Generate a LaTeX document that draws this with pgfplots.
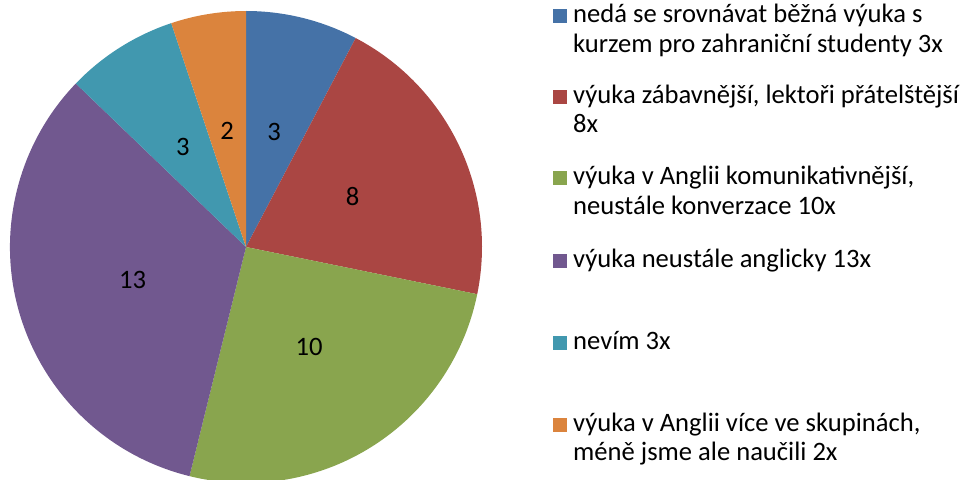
\documentclass[border=0pt]{standalone}
\usepackage{fontspec}
\setmainfont{Carlito}
\usepackage{pgfplots}
\usepackage{pgfplotstable}
\pgfplotsset{compat=1.18}

\definecolor{cBlue}{HTML}{4572A7}
\definecolor{cRed}{HTML}{AA4643}
\definecolor{cGreen}{HTML}{89A54E}
\definecolor{cPurple}{HTML}{71588F}
\definecolor{cTeal}{HTML}{4198AF}
\definecolor{cOrange}{HTML}{DB843D}

% slices, clockwise from 12 o'clock
\pgfplotstableread{
val col
3  cBlue
8  cRed
10 cGreen
13 cPurple
3  cTeal
2  cOrange
}\piedata

\begin{document}
\begin{tikzpicture}
\useasboundingbox (0pt,0pt) rectangle (966pt,479pt);

% total of all slices
\def\total{0}
\pgfplotsforeachungrouped \i in {0,...,5}{%
  \pgfplotstablegetelem{\i}{val}\of\piedata
  \pgfmathsetmacro\total{\total+\pgfplotsretval}%
}

\begin{axis}[
  at={(10pt,-4pt)}, anchor=south west,
  scale only axis, width=472pt, height=472pt,
  xmin=-1, xmax=1, ymin=-1, ymax=1,
  hide axis, clip=false,
]
\def\startang{90}
\pgfplotsforeachungrouped \i in {0,...,5}{%
  \pgfplotstablegetelem{\i}{val}\of\piedata \let\sval=\pgfplotsretval
  \pgfplotstablegetelem{\i}{col}\of\piedata \let\scol=\pgfplotsretval
  \pgfmathsetmacro\endang{\startang-360*\sval/\total}%
  \pgfmathsetmacro\midang{(\startang+\endang)/2}%
  \edef\temp{%
    \noexpand\fill[\scol] (axis cs:0,0) -- (axis cs:{cos(\startang)},{sin(\startang)})
      arc[start angle=\startang, end angle=\endang, radius=236pt] -- cycle;
    \noexpand\node[font=\noexpand\fontsize{26.6}{30}\noexpand\selectfont, inner sep=0pt]
      at (axis cs:{0.5*cos(\midang)},{0.5*sin(\midang)}) {\sval};
  }\temp
  \global\let\startang=\endang
}
\end{axis}

% legend
\tikzset{lt/.style={anchor=base west, inner sep=0pt, font=\fontsize{26.6}{30}\selectfont}}
\def\lx{573pt}
\fill[cBlue]   (553pt,{(479-23)*1pt}) rectangle ++(13.5pt,13.5pt);
\node[lt] at (\lx,{(479-23)*1pt}) {nedá se srovnávat běžná výuka s};
\node[lt] at (\lx,{(479-53)*1pt}) {kurzem pro zahraniční studenty 3x};
\fill[cRed]    (553pt,{(479-104)*1pt}) rectangle ++(13.5pt,13.5pt);
\node[lt] at (\lx,{(479-104)*1pt}) {výuka zábavnější, lektoři přátelštější};
\node[lt] at (\lx,{(479-133)*1pt}) {8x};
\fill[cGreen]  (553pt,{(479-185)*1pt}) rectangle ++(13.5pt,13.5pt);
\node[lt] at (\lx,{(479-185)*1pt}) {výuka v Anglii komunikativnější,};
\node[lt] at (\lx,{(479-215)*1pt}) {neustále konverzace 10x};
\fill[cPurple] (553pt,{(479-268)*1pt}) rectangle ++(13.5pt,13.5pt);
\node[lt] at (\lx,{(479-268)*1pt}) {výuka neustále anglicky 13x};
\fill[cTeal]   (553pt,{(479-350)*1pt}) rectangle ++(13.5pt,13.5pt);
\node[lt] at (\lx,{(479-350)*1pt}) {nevím 3x};
\fill[cOrange] (553pt,{(479-432)*1pt}) rectangle ++(13.5pt,13.5pt);
\node[lt] at (\lx,{(479-432)*1pt}) {výuka v Anglii více ve skupinách,};
\node[lt] at (\lx,{(479-461)*1pt}) {méně jsme ale naučili 2x};
\end{tikzpicture}
\end{document}
